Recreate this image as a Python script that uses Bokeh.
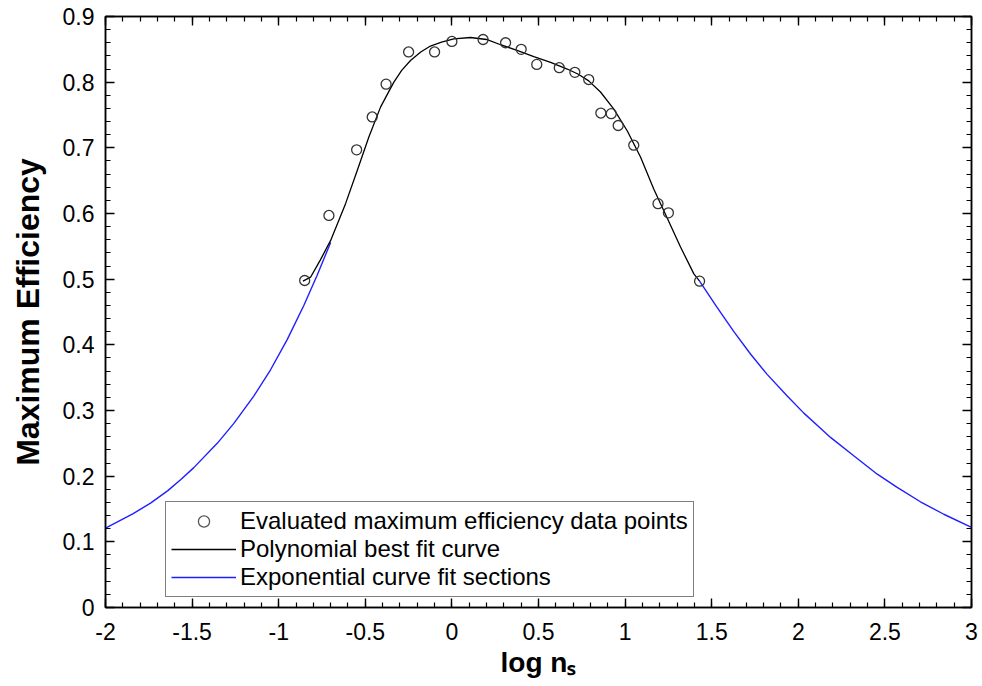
from bokeh.plotting import figure
from bokeh.models import (FixedTicker, LinearAxis, Legend, LegendItem,
                          CustomJSTickFormatter, ColumnDataSource, Range1d)
from bokeh.embed import file_html
from bokeh.resources import INLINE

# ---------------- data ----------------
pts_x = [-0.85, -0.71, -0.55, -0.46, -0.38, -0.25, -0.10, 0.00, 0.18, 0.31, 0.40,
         0.49, 0.62, 0.71, 0.79, 0.86, 0.92, 0.96, 1.05, 1.19, 1.25, 1.43]
pts_y = [0.498, 0.597, 0.697, 0.747, 0.797, 0.846, 0.846, 0.862, 0.865, 0.860, 0.850,
         0.827, 0.822, 0.815, 0.804, 0.753, 0.752, 0.734, 0.704, 0.615, 0.601, 0.497]

poly_x = [-0.86, -0.816, -0.76, -0.70, -0.614, -0.547, -0.48, -0.412, -0.37, -0.335,
          -0.29, -0.239, -0.18, -0.124, -0.06, 0.011, 0.107, 0.20, 0.281, 0.38, 0.473,
          0.57, 0.666, 0.73, 0.790, 0.858, 0.935, 1.012, 1.089, 1.166, 1.243, 1.32,
          1.397, 1.43]
poly_y = [0.497, 0.503, 0.529, 0.559, 0.615, 0.665, 0.716, 0.762, 0.783, 0.800,
          0.818, 0.833, 0.846, 0.855, 0.861, 0.866, 0.868, 0.865, 0.857, 0.848, 0.839,
          0.830, 0.820, 0.812, 0.802, 0.785, 0.759, 0.726, 0.686, 0.637, 0.593, 0.549,
          0.508, 0.497]

expL_x = [-2.0, -1.84, -1.74, -1.64, -1.565, -1.49, -1.355, -1.26, -1.144, -1.047,
          -0.951, -0.855, -0.778, -0.70]
expL_y = [0.121, 0.143, 0.159, 0.178, 0.195, 0.213, 0.250, 0.280, 0.322, 0.362,
          0.408, 0.460, 0.506, 0.556]

expR_x = [1.43, 1.531, 1.628, 1.724, 1.820, 1.936, 2.032, 2.128, 2.186, 2.32, 2.456,
          2.571, 2.705, 2.84, 3.0]
expR_y = [0.497, 0.457, 0.420, 0.386, 0.355, 0.322, 0.296, 0.273, 0.259, 0.231, 0.203,
          0.183, 0.161, 0.142, 0.122]

x_ticks = [-2, -1.5, -1, -0.5, 0, 0.5, 1, 1.5, 2, 2.5, 3]
x_tick_labels = ["-2", "-1.5", "-1", "-0.5", "0", "0.5", "1", "1.5", "2", "2.5", "3"]
y_ticks = [0, 0.1, 0.2, 0.3, 0.4, 0.5, 0.6, 0.7, 0.8, 0.9]
y_tick_labels = ["0", "0.1", "0.2", "0.3", "0.4", "0.5", "0.6", "0.7", "0.8", "0.9"]

legend_labels = ["Evaluated maximum efficiency data points",
                 "Polynomial best fit curve",
                 "Exponential curve fit sections"]

x_title = "log n\u209b"
y_title = "Maximum Efficiency"

FONT = "Liberation Sans"

x_minor = [round(-2 + 0.1 * i, 2) for i in range(51)]
y_minor = [round(0.02 * i, 2) for i in range(46)]

p = figure(frame_width=866, frame_height=591, min_border_left=105, min_border_right=9,
           min_border_top=16, min_border_bottom=75,
           x_range=(-2, 3), y_range=(0, 0.9),
           output_backend="svg", toolbar_location=None)
p.grid.visible = False
p.background_fill_color = "white"
p.border_fill_color = "white"
p.outline_line_color = "black"
p.outline_line_width = 1.5
# an off-screen range, used only so that the legend can show a smaller circle
p.extra_x_ranges = {"legend_only": Range1d(100, 101)}


def style_axis(ax, ticks, minor, labels, show_labels, standoff=8):
    ax.ticker = FixedTicker(ticks=ticks, minor_ticks=minor)
    ax.axis_line_color = "black"
    ax.axis_line_width = 1.5
    ax.major_tick_in = 9
    ax.major_tick_out = 0
    ax.minor_tick_in = 5
    ax.minor_tick_out = 0
    ax.major_tick_line_color = "black"
    ax.minor_tick_line_color = "black"
    ax.major_tick_line_width = 1.4
    ax.minor_tick_line_width = 1.2
    if show_labels:
        ax.major_label_overrides = {t: l for t, l in zip(ticks, labels)}
        ax.major_label_text_font = FONT
        ax.major_label_text_font_size = "23px"
        ax.major_label_text_color = "black"
        ax.major_label_standoff = standoff
    else:
        ax.formatter = CustomJSTickFormatter(code="return ''")
        ax.major_label_text_font_size = "0px"
        ax.major_label_standoff = 0


xa = p.below[0]
ya = p.left[0]
style_axis(xa, x_ticks, x_minor, x_tick_labels, True, standoff=15)
style_axis(ya, y_ticks, y_minor, y_tick_labels, True, standoff=11)

top = LinearAxis()
style_axis(top, x_ticks, x_minor, x_tick_labels, False)
p.add_layout(top, "above")
right = LinearAxis()
style_axis(right, y_ticks, y_minor, y_tick_labels, False)
p.add_layout(right, "right")

ya.axis_label = y_title
ya.axis_label_text_font = FONT
ya.axis_label_text_font_style = "bold"
ya.axis_label_text_font_size = "32px"
ya.axis_label_text_color = "black"
ya.axis_label_standoff = 14

xa.axis_label = x_title
xa.axis_label_text_font = FONT
xa.axis_label_text_font_style = "bold"
xa.axis_label_text_font_size = "28px"
xa.axis_label_text_color = "black"
xa.axis_label_standoff = 4

# curves
r_expL = p.line(expL_x, expL_y, line_color="#1f1fff", line_width=1.4)
r_expR = p.line(expR_x, expR_y, line_color="#1f1fff", line_width=1.4)
r_poly = p.line(poly_x, poly_y, line_color="black", line_width=1.3)
pts_src = ColumnDataSource(data=dict(x=pts_x, y=pts_y))
r_pts = p.scatter("x", "y", source=pts_src, marker="circle", size=10, fill_color=None,
                  line_color="#333333", line_width=1.3)
r_leg_pts = p.scatter("x", "y", source=pts_src, marker="circle", size=7, fill_color=None,
                      line_color="#555555", line_width=1.3, x_range_name="legend_only")

legend = Legend(items=[LegendItem(label=legend_labels[0], renderers=[r_leg_pts]),
                       LegendItem(label=legend_labels[1], renderers=[r_poly]),
                       LegendItem(label=legend_labels[2], renderers=[r_expL])],
                location=(60, 10), margin=0, padding=5, spacing=0,
                glyph_width=65, glyph_height=28, label_height=28, label_standoff=4,
                label_text_font=FONT, label_text_font_size="24px",
                label_text_color="black",
                border_line_color="black", border_line_width=1.5,
                background_fill_color="white", background_fill_alpha=1.0)
p.add_layout(legend)

open("out.html", "w").write(file_html(p, INLINE))
